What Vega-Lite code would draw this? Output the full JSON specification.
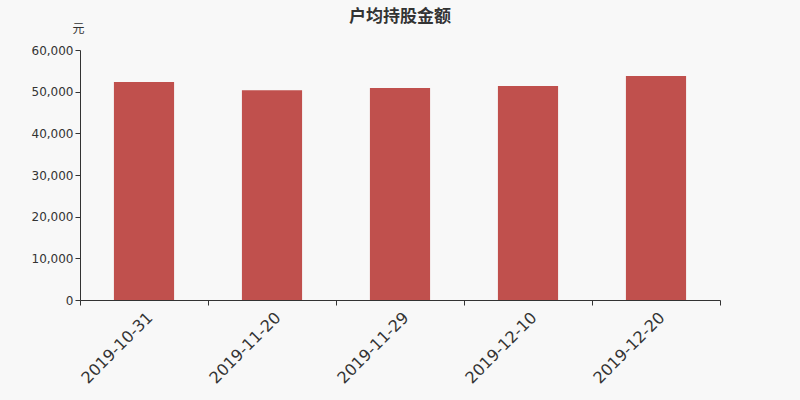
{
  "$schema": "https://vega.github.io/schema/vega-lite/v6.json",
  "width": 640,
  "height": 250,
  "autosize": "none",
  "padding": {"left": 80, "top": 50, "right": 80, "bottom": 100},
  "background": "#f8f8f8",
  "title": {
    "text": "户均持股金额",
    "font": "Noto Sans CJK SC",
    "fontSize": 17,
    "fontWeight": "bold",
    "color": "#333333",
    "anchor": "middle",
    "offset": -4
  },
  "data": {
    "values": [
      {"date": "2019-10-31", "amount": 52300},
      {"date": "2019-11-20", "amount": 50350},
      {"date": "2019-11-29", "amount": 50880},
      {"date": "2019-12-10", "amount": 51350},
      {"date": "2019-12-20", "amount": 53750}
    ]
  },
  "mark": {"type": "bar", "color": "#c0504d", "width": {"band": 0.47}},
  "encoding": {
    "x": {
      "field": "date",
      "type": "nominal",
      "title": null,
      "scale": {"paddingInner": 0, "paddingOuter": 0},
      "axis": {
        "labelAngle": -45,
        "labelFont": "DejaVu Sans",
        "labelFontSize": 16,
        "labelColor": "#333333",
        "domainColor": "#333333",
        "tickColor": "#333333",
        "tickBand": "extent",
        "tickSize": 5,
        "labelPadding": 4
      }
    },
    "y": {
      "field": "amount",
      "type": "quantitative",
      "scale": {"domain": [0, 60000]},
      "title": "元",
      "axis": {
        "format": ",d",
        "values": [0, 10000, 20000, 30000, 40000, 50000, 60000],
        "labelOverlap": false,
        "grid": false,
        "labelFont": "DejaVu Sans",
        "labelFontSize": 12,
        "labelColor": "#333333",
        "domainColor": "#333333",
        "tickColor": "#333333",
        "tickSize": 5,
        "titleAngle": 0,
        "titleX": -2,
        "titleY": -22,
        "titleAlign": "center",
        "titleBaseline": "middle",
        "titleFont": "Noto Sans CJK SC",
        "titleFontSize": 12,
        "titleFontWeight": "normal",
        "titleColor": "#333333"
      }
    }
  },
  "config": {"view": {"stroke": null}}
}
